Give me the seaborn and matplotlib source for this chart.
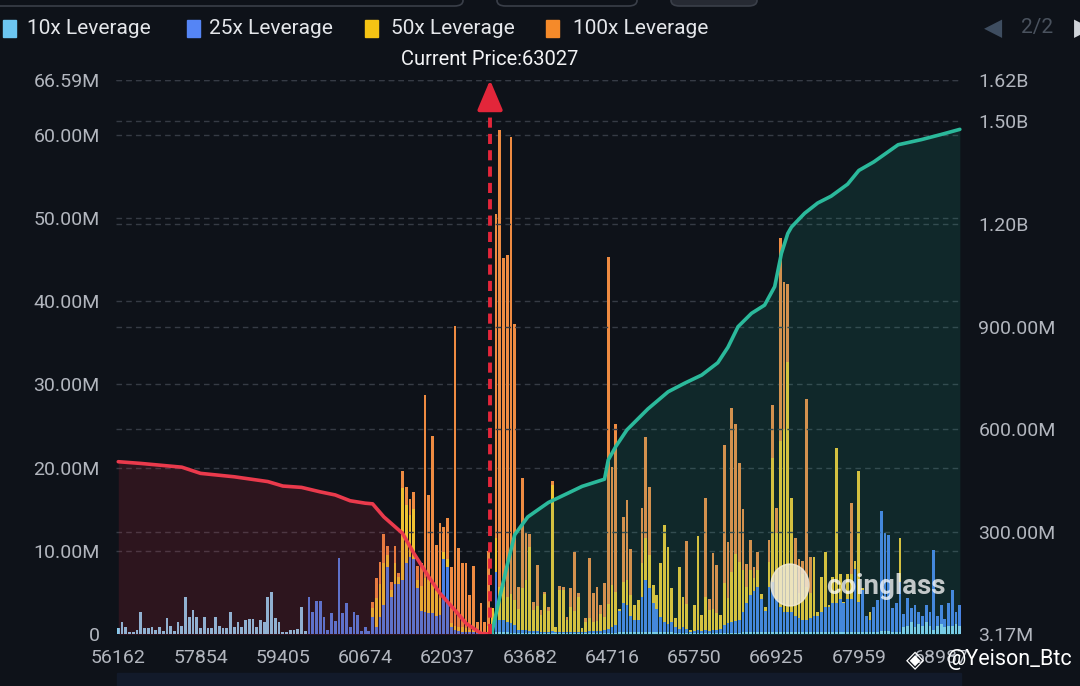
import numpy as np
import pandas as pd
import matplotlib
matplotlib.use("Agg")
import matplotlib.pyplot as plt
import seaborn as sns
from matplotlib.patches import Rectangle, FancyBboxPatch, Ellipse

# ---- data (values in millions USD, one entry per price bin) ----
n_bins = 226
tick_bins = [0, 22, 44, 66, 88, 110, 132, 154, 176, 198, 220]
tick_labels = ["56162", "57854", "59405", "60674", "62037", "63682",
               "64716", "65750", "66925", "67959", "68987"]

current_price = 63027
current_bin = 99.4

lev10 = [
    0.7, 1.5, 0.8, 0.25, 0.25, 0.5, 2.6, 0.7, 0.7, 0.9,
    0.5, 0.8, 0.35, 1.9, 0.95, 0.35, 1.5, 0.95, 4.4, 2.0,
    2.9, 2.1, 0.7, 2.1, 0.7, 0.7, 2.1, 0.95, 0.7, 0.7,
    2.7, 0.9, 1.4, 0.9, 1.7, 1.8, 1.8, 0.8, 1.7, 1.4,
    4.4, 5.0, 1.9, 1.4, 0.2, 0.2, 0.45, 0.45, 0.6, 3.3,
    0.35, 0, 0, 0, 0, 0, 0, 0, 0, 0,
    0, 0, 0, 0, 0, 0, 0, 0, 0, 0,
    0, 0, 0, 0, 0, 0, 0, 0, 0, 0,
    0, 0, 0, 0, 0, 0, 0, 0, 0, 0,
    0, 0, 0, 0, 0, 0, 0, 0, 0, 0,
    0.1, 0.3, 0.2, 0.2, 0.2, 0.1, 0.1, 0.1, 0.1, 0.1,
    0.1, 0.1, 0.1, 0.1, 0.1, 0.1, 0.1, 0.1, 0.1, 0.1,
    0.1, 0.1, 0.1, 0.1, 0.1, 0.1, 0.1, 0.1, 0.1, 0.1,
    0.1, 0.1, 0.1, 0.1, 0.2, 0.2, 0.2, 0.2, 0.2, 0.2,
    0.2, 0.3, 0.2, 0.2, 0.2, 0.2, 0.2, 0.2, 0.2, 0.1,
    0.1, 0.1, 0.1, 0.1, 0.1, 0.1, 0.1, 0.1, 0.1, 0.1,
    0.1, 0.1, 0.1, 0.1, 0.1, 0.1, 0.1, 0.2, 0.2, 0.2,
    0.2, 0.2, 0.2, 0.2, 0.2, 0.2, 0.2, 0.2, 0.2, 0.2,
    0.2, 0.2, 0.2, 0.2, 0.2, 0.2, 0.2, 0.2, 0.2, 0.2,
    0.2, 0.2, 0.2, 0.2, 0.2, 0.2, 0.2, 0.3, 0.3, 0.3,
    0.3, 0.2, 0.3, 0.3, 0.4, 0.4, 0.4, 0.3, 0.3, 0.3,
    0.8, 1.0, 1.5, 0.8, 1.2, 1.0, 1.5, 1.0, 0.5, 1.0,
    1.2, 0.8, 1.0, 1.0, 1.2, 1.0,
]

lev25 = [
    0, 0, 0, 0, 0, 0, 0, 0, 0, 0,
    0, 0, 0, 0, 0, 0, 0, 0, 0, 0,
    0, 0, 0, 0, 0, 0, 0, 0, 0, 0,
    0, 0, 0, 0, 0, 0, 0, 0, 0, 0,
    0, 0, 0, 0, 0, 0, 0, 0, 0, 0,
    0, 4.4, 2.7, 4.0, 4.0, 2.1, 0.5, 2.5, 1.6, 9.1,
    2.5, 3.7, 0.9, 2.6, 2.3, 0.35, 0.8, 0.35, 2.1, 0.8,
    2.0, 3.5, 8.0, 4.5, 6.0, 6.0, 6.5, 8.5, 9.3, 9.0,
    5.5, 2.8, 2.7, 2.5, 2.5, 2.2, 2.3, 9.0, 8.0, 0.8,
    0.5, 0.4, 0.3, 0.3, 0.2, 0.2, 0.1, 0.1, 0.0, 0.3,
    0.3, 7.2, 1.5, 1.5, 1.3, 1.2, 1.0, 0.4, 0.4, 0.4,
    0.3, 0.3, 0.3, 0.2, 0.2, 0.2, 0.3, 0.1, 0.2, 0.2,
    0.1, 0.2, 0.2, 0.2, 0.1, 0.2, 0.3, 0.3, 0.3, 0.3,
    0.4, 0.5, 0.8, 1.0, 2.6, 3.5, 3.3, 2.0, 1.5, 1.5,
    4.3, 6.2, 5.3, 3.5, 2.8, 1.8, 1.3, 1.0, 1.3, 0.7,
    0.5, 0.7, 0.5, 0.2, 0.3, 0.4, 0.3, 0.4, 0.3, 0.4,
    0.4, 0.5, 1.0, 1.2, 1.3, 1.5, 1.6, 2.5, 3.5, 4.5,
    5.0, 5.5, 4.0, 2.6, 5.5, 6.0, 4.0, 3.0, 2.5, 2.5,
    2.5, 2.0, 1.7, 1.5, 1.5, 1.7, 2.0, 2.0, 2.5, 3.0,
    3.0, 3.5, 3.5, 4.0, 3.5, 4.0, 4.0, 7.5, 3.5, 5.0,
    1.9, 1.5, 3.0, 3.8, 14.4, 11.7, 11.5, 2.8, 3.4, 6.0,
    1.6, 3.3, 1.6, 2.7, 1.4, 1.2, 2.0, 1.6, 9.6, 1.2,
    2.3, 1.0, 2.7, 4.3, 1.4, 2.5,
]

lev50 = [
    0, 0, 0, 0, 0, 0, 0, 0, 0, 0,
    0, 0, 0, 0, 0, 0, 0, 0, 0, 0,
    0, 0, 0, 0, 0, 0, 0, 0, 0, 0,
    0, 0, 0, 0, 0, 0, 0, 0, 0, 0,
    0, 0, 0, 0, 0, 0, 0, 0, 0, 0,
    0, 0, 0, 0, 0, 0, 0, 0, 0, 0,
    0, 0, 0, 0, 0, 0, 0, 0, 1.0, 3.5,
    4.0, 5.0, 1.5, 0.8, 2.5, 0.8, 11.0, 7.0, 5.0, 6.0,
    1.0, 3.0, 4.0, 4.0, 3.5, 3.0, 2.0, 0.8, 1.0, 0.5,
    0.5, 0.5, 0.5, 0.4, 0.3, 0.3, 0.2, 0.3, 0.3, 0.7,
    2.7, 4.0, 4.0, 4.0, 3.0, 3.5, 3.0, 2.5, 5.0, 6.0,
    10.0, 2.5, 3.0, 2.0, 4.5, 2.5, 17.5, 0.7, 5.0, 5.0,
    1.5, 3.0, 2.5, 4.2, 0.5, 1.2, 1.5, 1.0, 1.2, 2.0,
    1.5, 3.0, 5.0, 4.0, 0.2, 2.5, 3.0, 2.5, 1.8, 2.4,
    4.0, 5.0, 4.0, 2.2, 1.7, 6.5, 11.6, 9.3, 4.0, 1.1,
    7.4, 3.7, 3.0, 0.2, 3.1, 11.3, 1.9, 4.0, 2.5, 2.5,
    2.0, 1.7, 5.0, 3.0, 6.0, 8.0, 7.0, 5.0, 2.0, 3.0,
    1.5, 2.0, 0.6, 0.5, 3.0, 15.0, 8.0, 20.0, 22.0, 30.0,
    13.6, 6.0, 3.0, 5.5, 4.0, 3.0, 7.1, 0.4, 4.1, 6.7,
    0.3, 3.1, 18.6, 3.0, 0.2, 3.0, 3.0, 1.0, 15.8, 0.2,
    0, 0.9, 0, 0, 0, 0, 0, 0, 0, 5.2,
    0, 0, 0, 0, 0, 0, 0, 0, 0, 0,
    0, 0, 0, 0, 0, 0,
]

lev100 = [
    0, 0, 0, 0, 0, 0, 0, 0, 0, 0,
    0, 0, 0, 0, 0, 0, 0, 0, 0, 0,
    0, 0, 0, 0, 0, 0, 0, 0, 0, 0,
    0, 0, 0, 0, 0, 0, 0, 0, 0, 0,
    0, 0, 0, 0, 0, 0, 0, 0, 0, 0,
    0, 0, 0, 0, 0, 0, 0, 0, 0, 0,
    0, 0, 0, 0, 0, 0, 0, 0, 0.7, 2.4,
    2.7, 3.5, 1.1, 1.0, 2.1, 0.5, 2.1, 2.2, 1.9, 2.1,
    1.7, 2.7, 22.0, 10.2, 17.8, 5.5, 9.1, 3.1, 5.0, 6.8,
    36.0, 9.4, 7.7, 7.8, 4.2, 7.7, 1.2, 3.3, 1.2, 9.0,
    0, 39.0, 54.9, 39.5, 41.0, 54.9, 33.2, 2.7, 13.2, 5.8,
    1.6, 1.0, 4.9, 0.6, 0.3, 0.5, 0.5, 0, 0.5, 0.4,
    0.4, 2.2, 7.0, 0.4, 0, 0.4, 7.2, 3.5, 4.0, 1.1,
    4.1, 41.7, 14.2, 20.1, 0, 7.9, 9.6, 5.5, 0, 0,
    6.7, 12.2, 8.2, 0, 0, 0, 0, 0, 0, 0,
    0, 0, 7.6, 0, 0, 0, 0, 11.9, 1.3, 6.7,
    5.8, 0, 16.6, 6.8, 19.8, 15.7, 11.8, 7.3, 2.7, 3.6,
    1.4, 2.1, 0, 0, 2.6, 6.3, 3.0, 24.4, 17.6, 9.4,
    0, 3.3, 4.1, 1.6, 22.5, 4.4, 0, 0, 0, 0,
    0, 0, 0, 0, 0, 0, 8.6, 0, 0, 0,
    0, 0, 0, 0, 0, 0, 0, 0, 0, 0,
    0, 0, 0, 0, 0, 0, 0, 0, 0, 0,
    0, 0, 0, 0, 0, 0,
]

# cumulative liquidation lines (right axis, millions)
short_bins = [0, 6, 17, 22, 31, 40, 44, 49, 54, 58, 62, 66, 68, 71, 76, 79,
              83, 86, 90, 93, 97, 99.4]
short_cum = [506, 501, 490, 472, 462, 448, 435, 431, 418, 409, 392, 385, 383,
             345, 297, 239, 170, 122, 73, 34, 5, 3.17]
long_bins = [99.8, 102, 104, 106, 109.5, 115, 120, 124, 130, 131, 133, 136,
             141.6, 147, 151.4, 156, 160.3, 163, 165.7, 169.3, 172.8, 175.5,
             177.3, 179, 180, 183.5, 187, 190.6, 195, 198, 202, 208.5, 214.7,
             220, 225]
long_cum = [3.17, 111, 205, 293, 345, 387, 413, 434, 455, 511, 550, 599, 660,
            710, 735, 759, 795, 840, 900, 939, 963, 1017, 1114, 1172, 1191,
            1231, 1261, 1281, 1316, 1356, 1381, 1431, 1446, 1461, 1476]

left_ticks = [0, 10, 20, 30, 40, 50, 60, 66.59]
left_labels = ["0", "10.00M", "20.00M", "30.00M", "40.00M", "50.00M", "60.00M", "66.59M"]
right_ticks = [3.17, 300, 600, 900, 1200, 1500, 1620]
right_labels = ["3.17M", "300.00M", "600.00M", "900.00M", "1.20B", "1.50B", "1.62B"]

legend_names = ["10x Leverage", "25x Leverage", "50x Leverage", "100x Leverage"]

# ---- styling ----
bg = "#0e1219"
c10, c25, c50, c100 = "#86cdf0", "#4a80e6", "#efc232", "#ee8b42"
legend_colors = ["#6cc6f2", "#5585f5", "#f6c414", "#f58a2a"]
tick_color = "#b2b6be"
grid_color = "#363b45"
red = "#e3263a"

sns.set_theme(style="dark")
plt.rcParams["font.family"] = ["Roboto", "DejaVu Sans"]

W, H = 1080, 686
fig = plt.figure(figsize=(W / 100, H / 100), dpi=100, facecolor=bg)


def px(x, y):
    return x / W, 1 - y / H


ax = fig.add_axes([116.4 / W, 1 - 634 / H, (961.7 - 116.4) / W, (634 - 80) / H])
ax.set_facecolor(bg)

df = pd.DataFrame({"bin": np.arange(n_bins), "l10": lev10, "l25": lev25,
                   "l50": lev50, "l100": lev100})
df["s10"] = df["l10"]
df["s25"] = df["s10"] + df["l25"]
df["s50"] = df["s25"] + df["l50"]
df["s100"] = df["s50"] + df["l100"]

# stacked bars: draw from the full stack down
for col, color in [("s100", c100), ("s50", c50), ("s25", c25), ("s10", c10)]:
    sns.barplot(data=df, x="bin", y=col, color=color, width=0.74,
                saturation=1, errorbar=None, linewidth=0, ax=ax, zorder=2)

ax.set_xlim(-0.5, n_bins - 0.5)
ax.set_ylim(0, 66.59)
ax.set_xticks(tick_bins)
ax.set_xticklabels(tick_labels)
ax.set_yticks(left_ticks)
ax.set_yticklabels(left_labels)
ax.set_xlabel("")
ax.set_ylabel("")
ax.tick_params(axis="x", colors=tick_color, labelsize=14, length=0, pad=11)
ax.tick_params(axis="y", colors=tick_color, labelsize=14, length=0, pad=12)
ax.set_axisbelow(True)
ax.grid(axis="y", color=grid_color, linestyle=(0, (4, 3)), linewidth=1)
ax.grid(axis="x", visible=False)
ax.get_ygridlines()[0].set_visible(False)
for s in ax.spines.values():
    s.set_visible(False)

ax2 = ax.twinx()
ax2.set_ylim(3.17, 1620)
ax2.fill_between(short_bins, short_cum, 0, color="#c8283c", alpha=0.17, lw=0)
ax2.fill_between(long_bins, long_cum, 0, color="#1fbf9f", alpha=0.13, lw=0)
sns.lineplot(x=short_bins, y=short_cum, color="#ea3a4c", linewidth=2.6, ax=ax2)
sns.lineplot(x=long_bins, y=long_cum, color="#2bb99b", linewidth=2.6, ax=ax2)
ax2.set_yticks(right_ticks)
ax2.set_yticklabels(right_labels)
ax2.set_ylabel("")
ax2.tick_params(axis="y", colors=tick_color, labelsize=14, length=0, pad=12)
ax2.grid(axis="y", color=grid_color, linestyle=(0, (4, 3)), linewidth=1)
ax2.grid(axis="x", visible=False)
ax2.get_ygridlines()[0].set_visible(False)
for s in ax2.spines.values():
    s.set_visible(False)
ax2.set_xlim(-0.5, n_bins - 0.5)

# current price marker: dashed stem plus solid arrow head at the top
ax2.axvline(current_bin, ymin=0, ymax=0.96, color=red, lw=2.8,
            linestyle=(0, (2.6, 1.6)))
ax2.annotate("", xy=(current_bin, 1620), xytext=(0, -20), textcoords="offset points",
             arrowprops=dict(arrowstyle="-|>,head_length=1.3,head_width=0.55",
                             color=red, lw=2.8, mutation_scale=14,
                             shrinkA=0, shrinkB=0))
ax2.annotate(f"Current Price:{current_price}", xy=(current_bin, 1),
             xycoords=("data", "axes fraction"), xytext=(0, 15),
             textcoords="offset points", ha="center", va="center",
             color="#f2f3f5", fontsize=14.5)

# legend along the top
sq_x = [3, 187, 365, 546]
txt_x = [27, 209, 391, 573]
for name, col, sx, tx in zip(legend_names, legend_colors, sq_x, txt_x):
    fig.patches.append(Rectangle(px(sx, 37), 13 / W, 17 / H, transform=fig.transFigure,
                                 color=col, zorder=5))
    fig.text(*px(tx, 28), name, color="#e4e6ea", fontsize=15, va="center", ha="left")

# pagination and tab outlines
fig.text(*px(993, 28), "\u25c0", color="#3e4d60", fontsize=17, va="center", ha="center",
         family="DejaVu Sans")
fig.text(*px(1037, 28), "2/2", color="#4a525e", fontsize=15, va="center", ha="center")
fig.text(*px(1074, 28), "\u25b6", color="#d0d4da", fontsize=17, va="center", ha="left",
         family="DejaVu Sans")
for x0, x1, filled in [(-20, 463, False), (497, 637, False), (671, 757, True)]:
    fig.patches.append(FancyBboxPatch(px(x0, 6), (x1 - x0) / W, 30 / H,
                                      boxstyle="round,pad=0,rounding_size=0.008",
                                      transform=fig.transFigure,
                                      facecolor="#262a33" if filled else bg,
                                      edgecolor="#3a3f49", lw=1.2))

# bottom strip
fig.patches.append(Rectangle(px(117, 686), (961 - 117) / W, 13 / H,
                             transform=fig.transFigure, color="#121a2a"))

# watermarks
fig.patches.append(Ellipse(px(790, 585), 38 / W, 42 / H, transform=fig.transFigure,
                           color="#f3ecdc", alpha=0.8, zorder=6))
fig.text(*px(886, 587), "coinglass", color="white", alpha=0.75, fontsize=20,
         fontweight="bold", va="center", ha="center", zorder=7)
fig.text(*px(915, 660), "\u25c8", color="white", fontsize=17, va="center", ha="center",
         family="DejaVu Sans", zorder=7)
fig.text(*px(1072, 660), "@Yeison_Btc", color="white", fontsize=15.5, va="center",
         ha="right", zorder=7)

fig.savefig("out.png", dpi=100, facecolor=bg)
